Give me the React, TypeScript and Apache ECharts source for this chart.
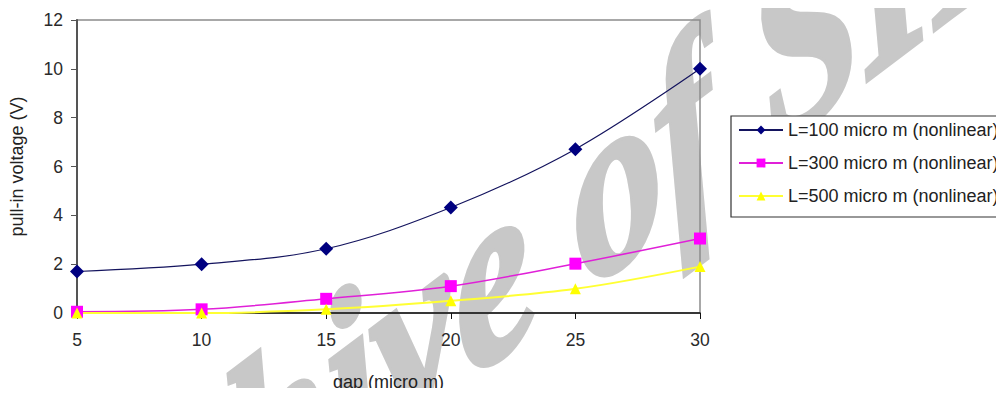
import React, { useEffect, useRef } from "react";
import * as echarts from "echarts";

// gap in micro m
const gaps = [5, 10, 15, 20, 25, 30];
// pull-in voltage (V) for each beam length
const pullInL100 = [1.7, 2.0, 2.63, 4.32, 6.71, 10.0];
const pullInL300 = [0.05, 0.15, 0.58, 1.1, 2.02, 3.05];
const pullInL500 = [0, 0, 0.15, 0.5, 0.99, 1.9];

const seriesNames = [
  "L=100 micro m (nonlinear)",
  "L=300 micro m (nonlinear)",
  "L=500 micro m (nonlinear)",
];
const yTicks = [0, 2, 4, 6, 8, 10, 12];

const pairs = (ys: number[]) => gaps.map((g, i) => [g, ys[i]]);

const SANS = '"Liberation Sans", Arial, sans-serif';

export default function App() {
  const ref = useRef<HTMLDivElement>(null);

  useEffect(() => {
    if (!ref.current) return;
    const chart = echarts.init(ref.current, undefined, { renderer: "svg" });
    chart.setOption({
      animation: false,
      backgroundColor: "#ffffff",
      graphic: [
        {
          type: "text",
          silent: true,
          z: -10,
          x: 508,
          y: 260,
          rotation: (37 * Math.PI) / 180,
          skewX: -0.42,
          style: {
            text: "Archive of SID",
            font: 'italic bold 215px "Liberation Serif", serif',
            fill: "#c8c8c8",
            stroke: "#c8c8c8",
            lineWidth: 5,
            textAlign: "center",
            textVerticalAlign: "middle",
          },
        },
      ],
      grid: {
        left: 76,
        right: 304,
        top: 20,
        bottom: 79,
        show: true,
        borderColor: "#8c8c8c",
        borderWidth: 1.5,
        backgroundColor: "transparent",
      },
      legend: {
        orient: "vertical",
        left: 731,
        top: 116,
        data: seriesNames,
        itemWidth: 44,
        itemHeight: 11,
        itemGap: 15,
        padding: [5, 10, 12, 7],
        borderColor: "#333",
        borderWidth: 1.2,
        backgroundColor: "#ffffff",
        textStyle: { fontFamily: SANS, fontSize: 18, color: "#222" },
      },
      xAxis: {
        type: "value",
        min: 5,
        max: 30,
        interval: 5,
        name: "gap (micro m)",
        nameLocation: "middle",
        nameGap: 60,
        nameTextStyle: { fontFamily: SANS, fontSize: 18, color: "#222" },
        axisLine: { lineStyle: { color: "#111", width: 1.5 } },
        axisTick: { show: true, length: 6, lineStyle: { color: "#111" } },
        axisLabel: { fontFamily: SANS, fontSize: 17.5, color: "#2a2a2a", margin: 18 },
        splitLine: { show: false },
      },
      yAxis: {
        type: "value",
        min: yTicks[0],
        max: yTicks[yTicks.length - 1],
        interval: 2,
        name: "pull-in voltage (V)",
        nameLocation: "middle",
        nameGap: 51,
        nameTextStyle: { fontFamily: SANS, fontSize: 18, color: "#222" },
        axisLine: { show: true, lineStyle: { color: "#555", width: 2 } },
        axisTick: { show: true, length: 6, lineStyle: { color: "#555" } },
        axisLabel: { fontFamily: SANS, fontSize: 17.5, color: "#2a2a2a", margin: 14 },
        splitLine: { show: false },
      },
      series: [
        {
          name: seriesNames[0],
          type: "line",
          data: pairs(pullInL100),
          smooth: 0.35,
          symbol: "diamond",
          symbolSize: 14,
          itemStyle: { color: "#000080" },
          lineStyle: { color: "#14145e", width: 1.2 },
        },
        {
          name: seriesNames[1],
          type: "line",
          data: pairs(pullInL300),
          smooth: 0.35,
          symbol: "rect",
          symbolSize: 12,
          itemStyle: { color: "#ff00ff" },
          lineStyle: { color: "#e020d8", width: 1.5 },
        },
        {
          name: seriesNames[2],
          type: "line",
          data: pairs(pullInL500),
          smooth: 0.35,
          symbol: "triangle",
          symbolSize: 11,
          itemStyle: { color: "#ffff00" },
          lineStyle: { color: "#ffff33", width: 2 },
        },
      ],
    });
    return () => chart.dispose();
  }, []);

  return <div ref={ref} style={{ width: 1004, height: 396, margin: -8 }} />;
}
